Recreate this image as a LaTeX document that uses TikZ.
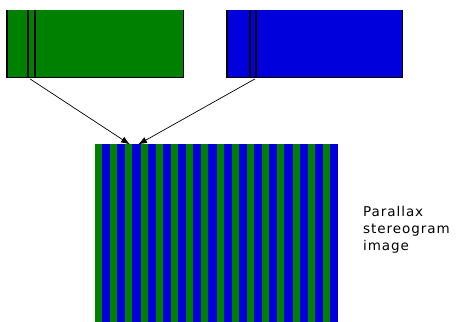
\documentclass[tikz,border=0pt]{standalone}
\usepackage{fontspec}
\newfontfamily\labelfont[LetterSpace=7]{DejaVu Sans}
\usetikzlibrary{positioning, arrows.meta, calc}
\definecolor{viewgreen}{RGB}{0,128,0}
\definecolor{viewblue}{RGB}{0,0,221}

\begin{document}
\begin{tikzpicture}[x=1pt, y=-1pt,
  viewbox/.style={minimum width=176pt, minimum height=67pt, inner sep=0pt, anchor=north west},
  edge/.style={line width=1.3pt},
  feed/.style={-{Latex[length=9pt, width=6.5pt]}, line width=0.7pt}]
\useasboundingbox (0,0) rectangle (459,322);
\node[viewbox, fill=viewgreen] (leftview) at (7,10) {};
\node[viewbox, fill=viewblue, minimum width=175pt] (rightview) at (227,10) {};
% open at the top, like the cut-off views
\draw[edge] (leftview.north west) |- (leftview.south east) -- (leftview.north east);
\draw[edge] (rightview.north west) |- (rightview.south east) -- (rightview.north east);
\draw[edge] ([xshift=21pt]leftview.north west) -- ([xshift=21pt]leftview.south west);
\draw[edge] ([xshift=28pt]leftview.north west) -- ([xshift=28pt]leftview.south west);
\draw[edge] ([xshift=23pt]rightview.north west) -- ([xshift=23pt]rightview.south west);
\draw[edge] ([xshift=29pt]rightview.north west) -- ([xshift=29pt]rightview.south west);
\coordinate (leftfoot) at ([xshift=23pt, yshift=-1.5pt]leftview.south west);
\coordinate (rightfoot) at ([xshift=28pt, yshift=-1.5pt]rightview.south west);
\node[minimum width=243pt, minimum height=180pt, inner sep=0pt, anchor=north west] (stereo) at (95,144) {};
\foreach \i in {0,...,15} {
  \fill[viewgreen] ($(stereo.north west)+(\i*15.2,0)$) rectangle ++(7,180);
  \fill[viewblue] ($(stereo.north west)+(\i*15.2+7,0)$) rectangle ++(8.2,180);
}
\draw[feed] (leftfoot) -- ([xshift=35pt, yshift=-0.5pt]stereo.north west);
\draw[feed] (rightfoot) -- ([xshift=43pt, yshift=-0.5pt]stereo.north west);
\node[anchor=north west, inner sep=0pt, align=left, font=\labelfont\fontsize{13.5}{17}\selectfont] (caption) at (363,206) {Parallax\\stereogram\\image};
\end{tikzpicture}
\end{document}
